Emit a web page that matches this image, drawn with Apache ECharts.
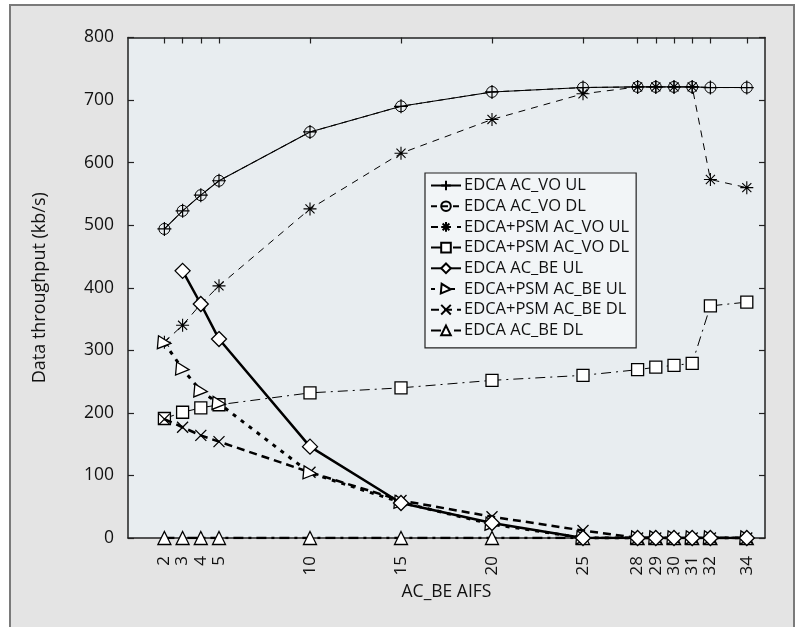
<!DOCTYPE html>
<html>
<head>
<meta charset="utf-8">
<script src="https://cdn.jsdelivr.net/npm/echarts@6/dist/echarts.min.js"></script>
<style>
html,body{margin:0;padding:0;background:#fff;}
#chart{width:803px;height:627px;}
</style>
</head>
<body>
<div id="chart"></div>
<script>
var xValues = [2, 3, 4, 5, 10, 15, 20, 25, 28, 29, 30, 31, 32, 34];
var yTicks = [0, 100, 200, 300, 400, 500, 600, 700, 800];
var seriesNames = ['EDCA AC_VO UL', 'EDCA AC_VO DL', 'EDCA+PSM AC_VO UL', 'EDCA+PSM AC_VO DL',
  'EDCA AC_BE UL', 'EDCA+PSM AC_BE UL', 'EDCA+PSM AC_BE DL', 'EDCA AC_BE DL'];
var edcaVoUL   = [494, 523, 548, 571, 649, 690, 713, 720, 721, 721, 721, 721, 720, 720];
var edcaVoDL   = [494, 523, 548, 571, 649, 690, 713, 720, 721, 721, 721, 721, 720, 720];
var psmVoUL    = [313, 340, 374, 403, 526, 615, 669, 710, 721, 721, 721, 721, 573, 560];
var psmVoDL    = [191, 201, 208, 213, 232, 240, 252, 260, 269, 273, 276, 279, 371, 377];
var edcaBeUL   = [null, 427, 374, 318, 146, 56, 24, 0, 0, 0, 0, 0, 0, 0];
var psmBeUL    = [312, 270, 235, 215, 104, 57, 22, 0, 0, 0, 0, 0, 0, 0];
var psmBeDL    = [190, 177, 164, 154, 105, 60, 34, 12, 0, 0, 0, 0, 0, 0];
var edcaBeDL   = [0, 0, 0, 0, 0, 0, 0, 0, 0, 0, 0, 0, 0, 0];

function pairs(arr){
  var out = [];
  for (var i = 0; i < xValues.length; i++) {
    if (arr[i] !== null) out.push([xValues[i], arr[i]]);
  }
  return out;
}

var FONT = '"Open Sans", "Noto Sans", sans-serif';
var TXT = '#111';
var plusPath = 'path://M0,5L10,5M5,0L5,10';
var starPath = 'path://M5,0L5,10M0,5L10,5M1.5,1.5L8.5,8.5M1.5,8.5L8.5,1.5';
var crossPath = 'path://M0,0L10,10M0,10L10,0';

function strokeOnly(w){ return {color: 'none', borderColor: '#000', borderWidth: w}; }
function whiteFill(w){ return {color: '#fff', borderColor: '#000', borderWidth: w}; }

var chart = echarts.init(document.getElementById('chart'), null, {renderer: 'canvas'});
var option = {
  animation: false,
  backgroundColor: '#fff',
  graphic: [{
    type: 'rect', z: -10, silent: true,
    shape: {x: 10, y: 5, width: 784, height: 640},
    style: {fill: '#e4e4e4', stroke: '#7a7a7a', lineWidth: 2}
  }],
  grid: {
    left: 128, top: 37.5, right: 38, bottom: 89,
    show: true, backgroundColor: '#e8edf0', borderWidth: 0
  },
  legend: {
    orient: 'vertical',
    left: 425, top: 173,
    itemWidth: 30, itemHeight: 12, itemGap: 3.7,
    padding: [4, 7, 9, 5],
    backgroundColor: '#f2f5f7',
    borderColor: '#222', borderWidth: 1.2, borderRadius: 0,
    textStyle: {fontFamily: FONT, fontSize: 16.5, color: TXT, padding: [0, 0, 0, -2]},
    data: seriesNames
  },
  xAxis: [{
    type: 'value', min: 0, max: 35,
    name: 'AC_BE AIFS', nameLocation: 'middle', nameGap: 43,
    nameTextStyle: {fontFamily: FONT, fontSize: 17.5, color: TXT},
    splitLine: {show: false},
    axisLine: {show: true, onZero: false, lineStyle: {color: '#222', width: 1.5}},
    axisTick: {show: true, inside: true, length: 6, customValues: xValues, lineStyle: {color: '#222', width: 1.2}},
    axisLabel: {show: true, rotate: 90, margin: 18, customValues: xValues,
      fontFamily: FONT, fontSize: 17, color: TXT}
  }, {
    type: 'value', min: 0, max: 35, position: 'top',
    splitLine: {show: false},
    axisLine: {show: true, onZero: false, lineStyle: {color: '#222', width: 1.5}},
    axisTick: {show: true, inside: true, length: 6, customValues: xValues, lineStyle: {color: '#222', width: 1.2}},
    axisLabel: {show: false}
  }],
  yAxis: [{
    type: 'value', min: 0, max: 800, interval: 100,
    name: 'Data throughput (kb/s)', nameLocation: 'middle', nameGap: 79, nameRotate: 90,
    nameTextStyle: {fontFamily: FONT, fontSize: 18, color: TXT},
    splitLine: {show: false},
    axisLine: {show: true, onZero: false, lineStyle: {color: '#222', width: 1.5}},
    axisTick: {show: true, inside: true, length: 6, lineStyle: {color: '#222', width: 1.2}},
    axisLabel: {show: true, margin: 14, fontFamily: FONT, fontSize: 17.5, color: TXT,
      customValues: yTicks}
  }, {
    type: 'value', min: 0, max: 800, interval: 100, position: 'right',
    splitLine: {show: false},
    axisLine: {show: true, onZero: false, lineStyle: {color: '#222', width: 1.5}},
    axisTick: {show: true, inside: true, length: 6, lineStyle: {color: '#222', width: 1.2}},
    axisLabel: {show: false}
  }],
  series: [
    {name: seriesNames[1], type: 'line', data: pairs(edcaVoDL), z: 2,
      symbol: 'circle', symbolSize: 11, itemStyle: strokeOnly(1),
      lineStyle: {color: '#000', width: 1, type: [6, 5]}},
    {name: seriesNames[2], type: 'line', data: pairs(psmVoUL), z: 3,
      symbol: starPath, symbolSize: 13, itemStyle: strokeOnly(1.1),
      lineStyle: {color: '#000', width: 1, type: [7, 6]}},
    {name: seriesNames[3], type: 'line', data: pairs(psmVoDL), z: 3,
      symbol: 'rect', symbolSize: 12, itemStyle: whiteFill(1.3),
      lineStyle: {color: '#000', width: 1, type: [10, 5, 2, 5]}},
    {name: seriesNames[0], type: 'line', data: pairs(edcaVoUL), z: 4,
      symbol: plusPath, symbolSize: 14, itemStyle: strokeOnly(1.2),
      lineStyle: {color: '#000', width: 1.1, type: 'solid'}},
    {name: seriesNames[7], type: 'line', data: pairs(edcaBeDL), z: 5,
      symbol: 'triangle', symbolSize: 13, itemStyle: whiteFill(1.3),
      lineStyle: {color: '#000', width: 2.5, type: [10, 5, 3, 5]}},
    {name: seriesNames[6], type: 'line', data: pairs(psmBeDL), z: 6,
      symbol: crossPath, symbolSize: 11, itemStyle: strokeOnly(1.3),
      lineStyle: {color: '#000', width: 2.5, type: [8, 5]}},
    {name: seriesNames[5], type: 'line', data: pairs(psmBeUL), z: 6,
      symbol: 'triangle', symbolRotate: -95, symbolSize: 13, itemStyle: whiteFill(1.3),
      lineStyle: {color: '#000', width: 3, type: [4, 6]}},
    {name: seriesNames[4], type: 'line', data: pairs(edcaBeUL), z: 7,
      symbol: 'diamond', symbolSize: 15, itemStyle: whiteFill(1.3),
      lineStyle: {color: '#000', width: 2.5, type: 'solid'}}
  ]
};
chart.setOption(option);
</script>
</body>
</html>
